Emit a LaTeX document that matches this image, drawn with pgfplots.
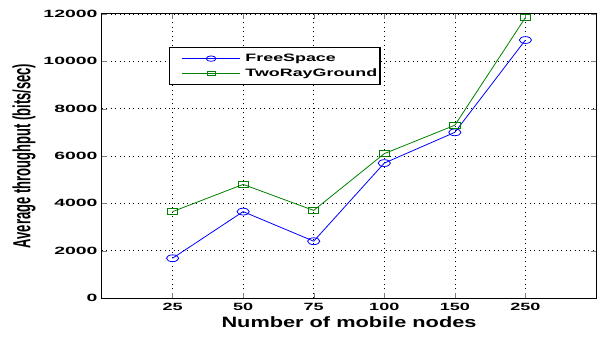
\documentclass[border=0pt]{standalone}
\usepackage{fontspec}
\setmainfont{Liberation Sans}
\newfontfamily\tickbf{Liberation Sans Bold}[FakeStretch=1.72]
\newfontfamily\ytickbf{Liberation Sans Bold}[FakeStretch=1.85]
\newfontfamily\xlabbf{Liberation Sans Bold}[FakeStretch=1.45]
\newfontfamily\legbf{Liberation Sans Bold}[FakeStretch=1.67]
\newfontfamily\ylabfont{Liberation Sans Bold}
\usepackage{graphicx}
\usepackage{pgfplots}
\pgfplotsset{compat=1.18}
\definecolor{mblue}{rgb}{0,0,1}
\definecolor{mgreen}{rgb}{0,0.5,0}
\begin{document}
\begin{tikzpicture}
\begin{axis}[
  scale only axis,
  width=494bp, height=284bp,
  xmin=0, xmax=7, ymin=0, ymax=12000,
  scaled y ticks=false, scaled x ticks=false,
  xtick={1,2,3,4,5,6},
  xticklabels={25,50,75,100,150,250},
  ytick={0,2000,4000,6000,8000,10000,12000},
  yticklabels={0,2000,4000,6000,8000,10000,12000},
  xticklabel style={font=\tickbf\fontsize{10.5bp}{12bp}\selectfont, yshift=-1.5bp},
  yticklabel style={font=\ytickbf\fontsize{10.5bp}{12bp}\selectfont, xshift=-1bp},
  xlabel={Number of mobile nodes},
  ylabel={\scalebox{1}[1.9]{Average throughput (bits/sec)}},
  xlabel style={font=\xlabbf\fontsize{15bp}{17bp}\selectfont, yshift=1bp},
  ylabel style={font=\ylabfont\fontsize{13bp}{15bp}\selectfont, yshift=1bp},
  tick align=inside,
  major tick length=5bp,
  grid=major,
  major grid style={black, dash pattern=on 1bp off 3.5bp, line width=0.7bp},
  axis line style={black, line width=1bp},
  legend style={at={(0.1356,0.884)}, anchor=north west, draw=black, line width=1.4bp,
    font=\legbf\fontsize{10.7bp}{13bp}\selectfont, inner xsep=1bp, inner ysep=4.5bp,
    row sep=1.5bp, cells={anchor=west}},
  legend image code/.code={
    \draw[mark repeat=2,mark phase=2, line width=0.8bp, /tikz/every mark/.append style={scale=0.8}]
      plot coordinates {(11bp,0bp) (40bp,0bp) (69bp,0bp)};
    \path (0bp,0bp) (72bp,0bp);}
]
\addplot[color=mblue, line width=0.8bp, mark=o, mark size=3.4bp, mark options={draw=mblue, xscale=1.8, line width=0.8bp}]
  coordinates {(1,1680) (2,3650) (3,2400) (4,5700) (5,7000) (6,10900)};
\addlegendentry{FreeSpace}
\addplot[color=mgreen, line width=0.8bp, mark=square, mark size=2.8bp, mark options={draw=mgreen, xscale=1.85, line width=0.8bp}]
  coordinates {(1,3650) (2,4800) (3,3700) (4,6100) (5,7300) (6,11850)};
\addlegendentry{TwoRayGround}
\end{axis}
\pgfresetboundingbox
\useasboundingbox ([shift={(-102bp,-39bp)}]current axis.south west) rectangle ([shift={(2bp,14bp)}]current axis.north east);
\end{tikzpicture}
\end{document}
